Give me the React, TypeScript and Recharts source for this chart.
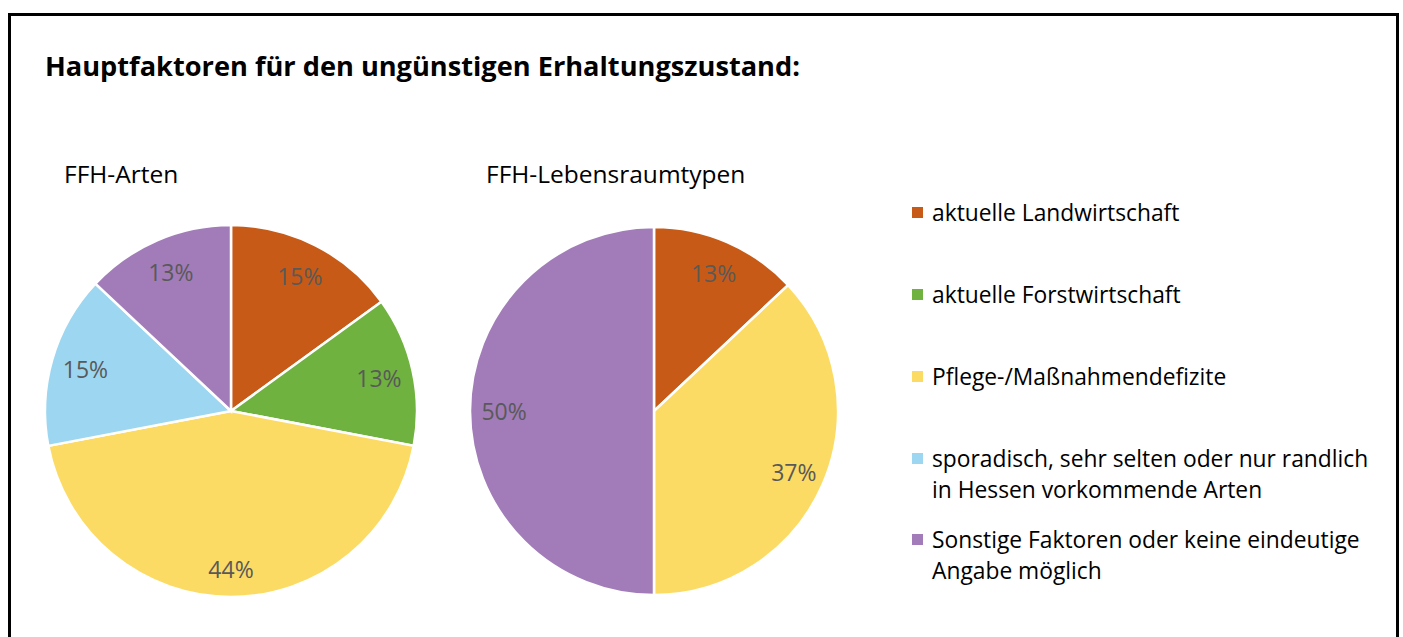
import React from 'react';
import { PieChart, Pie, Cell } from 'recharts';

const chartTitle = 'Hauptfaktoren für den ungünstigen Erhaltungszustand:';
const pieTitles = ['FFH-Arten', 'FFH-Lebensraumtypen'];
const categories = [
  'aktuelle Landwirtschaft',
  'aktuelle Forstwirtschaft',
  'Pflege-/Maßnahmendefizite',
  'sporadisch, sehr selten oder nur randlich in Hessen vorkommende Arten',
  'Sonstige Faktoren oder keine eindeutige Angabe möglich',
];
const legendLines = [
  ['aktuelle Landwirtschaft'],
  ['aktuelle Forstwirtschaft'],
  ['Pflege-/Maßnahmendefizite'],
  ['sporadisch, sehr selten oder nur randlich', 'in Hessen vorkommende Arten'],
  ['Sonstige Faktoren oder keine eindeutige', 'Angabe möglich'],
];
const colors = ['#C75A17', '#6FB23F', '#FCDB64', '#9DD6F0', '#A27CB8'];
const artenValues = [15, 13, 44, 15, 13];
const lebensraumValues = [13, 0, 37, 0, 50];

const build = (vals: number[]) =>
  categories
    .map((name, i) => ({ name, value: vals[i], color: colors[i] }))
    .filter((d) => d.value > 0);

const artenData = build(artenValues);
const lebensraumData = build(lebensraumValues);

const FONT = "'Open Sans', 'Noto Sans', sans-serif";
const RAD = Math.PI / 180;

const renderLabel = (props: any) => {
  const { cx, cy, midAngle, outerRadius, value } = props;
  const c = Math.cos(-midAngle * RAD);
  const s = Math.sin(-midAngle * RAD);
  const r = outerRadius * 0.815 + Math.max(0, s) * 6;
  const x = cx + r * c;
  const y = cy + r * s;
  return (
    <text
      x={x}
      y={y}
      fill="#595959"
      textAnchor="middle"
      dominantBaseline="central"
      style={{ fontFamily: FONT, fontSize: 23 }}
    >
      {`${value}%`}
    </text>
  );
};

const legendY = [221, 303, 385, 467, 548];

export default function App() {
  return (
    <div
      style={{
        position: 'absolute',
        left: 0,
        top: 0,
        width: 1403,
        height: 637,
        overflow: 'hidden',
        background: '#fff',
      }}
    >
      <div
        style={{
          position: 'absolute',
          left: 8,
          top: 13,
          width: 1391,
          height: 700,
          boxSizing: 'border-box',
          border: '3px solid #000',
        }}
      />
      <div style={{ position: 'absolute', left: 0, top: 0 }}>
        <PieChart width={1403} height={637} margin={{ top: 0, right: 0, bottom: 0, left: 0 }}>
          <Pie
            data={artenData}
            dataKey="value"
            nameKey="name"
            cx={231}
            cy={411}
            outerRadius={186}
            startAngle={90}
            endAngle={-270}
            stroke="#ffffff"
            strokeWidth={2.5}
            label={renderLabel}
            labelLine={false}
            isAnimationActive={false}
          >
            {artenData.map((d) => (
              <Cell key={d.name} fill={d.color} />
            ))}
          </Pie>
          <Pie
            data={lebensraumData}
            dataKey="value"
            nameKey="name"
            cx={654}
            cy={411}
            outerRadius={184}
            startAngle={90}
            endAngle={-270}
            stroke="#ffffff"
            strokeWidth={2.5}
            label={renderLabel}
            labelLine={false}
            isAnimationActive={false}
          >
            {lebensraumData.map((d) => (
              <Cell key={d.name} fill={d.color} />
            ))}
          </Pie>
        </PieChart>
      </div>
      <svg
        width={1403}
        height={637}
        style={{ position: 'absolute', left: 0, top: 0, pointerEvents: 'none' }}
      >
        <text x={45} y={76} fill="#000" style={{ fontFamily: FONT, fontSize: 27.2, fontWeight: 700 }}>
          {chartTitle}
        </text>
        <text x={64} y={183} fill="#000" style={{ fontFamily: FONT, fontSize: 24.5 }}>
          {pieTitles[0]}
        </text>
        <text x={486} y={183} fill="#000" style={{ fontFamily: FONT, fontSize: 24.5 }}>
          {pieTitles[1]}
        </text>
        {legendLines.map((lines, i) => (
          <g key={i}>
            <rect x={912} y={legendY[i] - 14} width={11} height={11} fill={colors[i]} />
            {lines.map((ln, j) => (
              <text
                key={j}
                x={932}
                y={legendY[i] + j * 31}
                fill="#000"
                style={{ fontFamily: FONT, fontSize: 22.8 }}
              >
                {ln}
              </text>
            ))}
          </g>
        ))}
      </svg>
    </div>
  );
}
